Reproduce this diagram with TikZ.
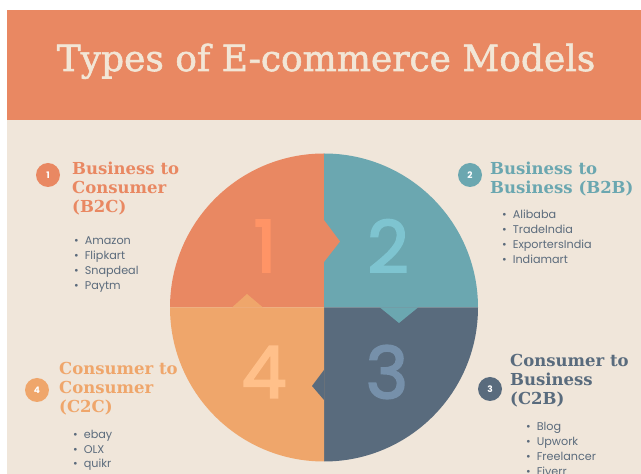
\documentclass[tikz,border=0pt]{standalone}
\usepackage{fontspec}
\setmainfont{DejaVu Serif}
\newfontfamily\titlefont[FakeBold=1.6]{DejaVu Serif}
\newfontfamily\listfont{Poppins}
\newfontfamily\numfont[FakeBold=2.5]{Poppins}
\begin{document}
\begin{tikzpicture}[x=1pt, y=1pt,
  heading/.style = {anchor=north west, inner sep=0, align=left, font=\bfseries\fontsize{16.5}{19}\selectfont},
  item/.style = {anchor=base west, inner sep=0, text=listcol, font=\listfont\fontsize{11.2}{12}\selectfont},
  badge/.style = {circle, minimum size=24pt, inner sep=0, text=white, font=\listfont\bfseries\fontsize{9}{9}\selectfont},
  bignum/.style = {inner sep=0, font=\numfont\fontsize{72}{72}\selectfont}]
\definecolor{bg}{HTML}{F0E6DA}
\definecolor{hdr}{HTML}{E98862}
\definecolor{titlecol}{HTML}{F2E6D6}
\definecolor{listcol}{HTML}{5B6B7C}
\definecolor{seg1}{HTML}{E98862}
\definecolor{seg2}{HTML}{6BA7B0}
\definecolor{seg3}{HTML}{596B7D}
\definecolor{seg4}{HTML}{EFA66B}
\definecolor{num1}{HTML}{FF9466}
\definecolor{num2}{HTML}{7EC4D0}
\definecolor{num3}{HTML}{7690AA}
\definecolor{num4}{HTML}{FFC08A}
\useasboundingbox (0,0) rectangle (641,474);
\fill[white] (0,0) rectangle (641,474);
\fill[bg] (7,0) rectangle (641,354);
\fill[hdr] (7,354) rectangle (641,464);
\node[text=titlecol, font=\titlefont\fontsize{36}{40}\selectfont, anchor=base] (title) at (326,403) {Types of E-commerce Models};
% the four quarters
\coordinate (cen) at (324,166.5);
\fill[seg1] (cen) -- (324,320.5) arc[start angle=90, end angle=180, radius=154] -- cycle;
\fill[seg2] (cen) -- (478,166.5) arc[start angle=0, end angle=90, radius=154] -- cycle;
\fill[seg3] (cen) -- (324,12.5) arc[start angle=270, end angle=360, radius=154] -- cycle;
\fill[seg4] (cen) -- (170,166.5) arc[start angle=180, end angle=270, radius=154] -- cycle;
% notches
\fill[seg1] (324,254) -- (340,232.5) -- (324,212) -- cycle;
\fill[seg2] (380,166.5) -- (399,151) -- (418,166.5) -- cycle;
\fill[seg3] (324,104) -- (312,88) -- (324,74) -- cycle;
\fill[seg4] (232,166.5) -- (247,180) -- (263,166.5) -- cycle;
\node[bignum, text=num1] (n1) at (265,228) {1};
\node[bignum, text=num2] (n2) at (388,228) {2};
\node[bignum, text=num3] (n3) at (387,102) {3};
\node[bignum, text=num4] (n4) at (264,102) {4};
% B2C
\node[badge, fill=seg1] (b1) at (48,299) {1};
\node[heading, text=seg1] (h1) at (72,312) {Business to\\Consumer\\(B2C)};
\foreach \t [count=\i from 0] in {Amazon,Flipkart,Snapdeal,Paytm}
  \node[item] (btc\i) at (74,229-15*\i) {\textbullet\hspace{6pt}\t};
% B2B
\node[badge, fill=seg2] (b2) at (470,299) {2};
\node[heading, text=seg2] (h2) at (490,312) {Business to\\Business (B2B)};
\foreach \t [count=\i from 0] in {Alibaba,TradeIndia,ExportersIndia,Indiamart}
  \node[item] (btb\i) at (502,255-15*\i) {\textbullet\hspace{6pt}\t};
% C2B
\node[badge, fill=seg3] (b3) at (490,85) {3};
\node[heading, text=seg3] (h3) at (510,120) {Consumer to\\Business\\(C2B)};
\foreach \t [count=\i from 0] in {Blog,Upwork,Freelancer,Fiverr}
  \node[item] (ctb\i) at (526,43-15*\i) {\textbullet\hspace{6pt}\t};
% C2C
\node[badge, fill=seg4] (b4) at (37,84) {4};
\node[heading, text=seg4] (h4) at (59,112) {Consumer to\\Consumer\\(C2C)};
\foreach \t [count=\i from 0] in {ebay,OLX,quikr}
  \node[item] (ctc\i) at (73,35-14.5*\i) {\textbullet\hspace{6pt}\t};
\end{tikzpicture}
\end{document}
